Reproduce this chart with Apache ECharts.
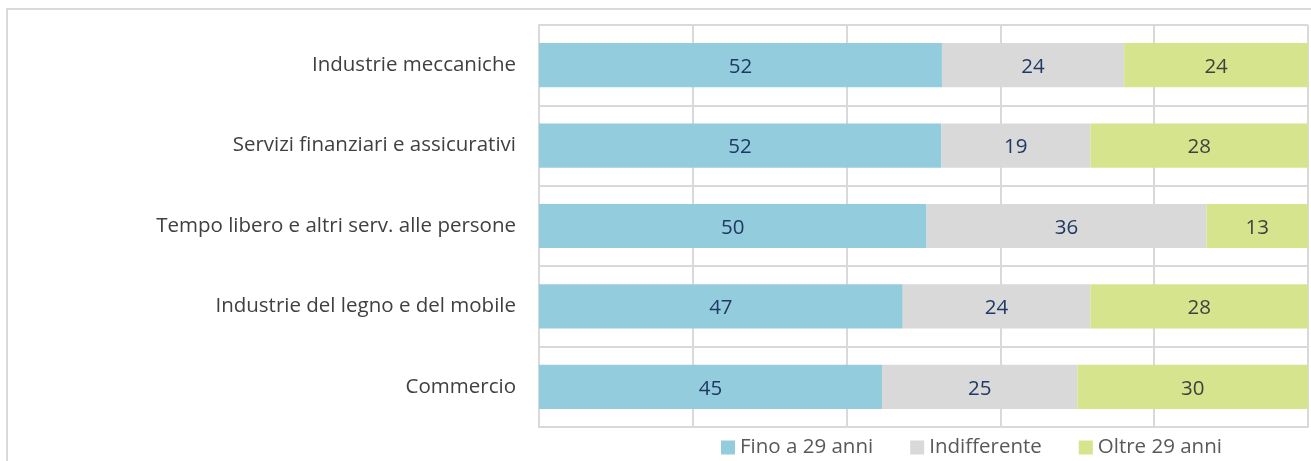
<!DOCTYPE html>
<html><head><meta charset="utf-8">
<script src="https://cdn.jsdelivr.net/npm/echarts@6/dist/echarts.min.js"></script>
<style>html,body{margin:0;padding:0;background:#fff}#c{width:1311px;height:461px}</style>
</head><body><div id="c"></div>
<script>
const categories = ['Industrie meccaniche','Servizi finanziari e assicurativi','Tempo libero e altri serv. alle persone','Industrie del legno e del mobile','Commercio'];
const fino = [52.4, 52.3, 50.4, 47.3, 44.6];
const indiff = [23.7, 19.4, 36.4, 24.4, 25.4];
const oltre = [23.9, 28.3, 13.2, 28.3, 30.0];
const seriesNames = ['Fino a 29 anni','Indifferente','Oltre 29 anni'];
const FONT = 'Open Sans';
const FS = 20.5;
const chart = echarts.init(document.getElementById('c'));
const lbl = (color) => ({show:true, position:'inside', offset:[0,2], color:color, fontFamily:FONT, fontSize:FS, formatter:p=>Math.round(p.value)});
chart.setOption({
  animation:false,
  graphic:[{type:'rect', shape:{x:7,y:9,width:1330,height:480}, style:{fill:'none', stroke:'#d9d9d9', lineWidth:2}, silent:true}],
  grid:{left:539, right:3, top:25, bottom:34, containLabel:false},
  legend:{top:432, left:716, itemWidth:14, itemHeight:14, itemGap:37, icon:'rect',
    textStyle:{fontFamily:FONT, fontSize:FS, color:'#595959'}, data:seriesNames},
  xAxis:{type:'value', min:0, max:100, interval:20, axisLabel:{show:false}, axisTick:{show:false},
    axisLine:{show:true, lineStyle:{color:'#d9d9d9', width:2}},
    splitLine:{show:true, lineStyle:{color:'#d9d9d9', width:2}}},
  yAxis:{type:'category', inverse:true, data:categories, axisTick:{show:false},
    axisLine:{show:true, lineStyle:{color:'#d9d9d9', width:2}},
    splitLine:{show:true, lineStyle:{color:'#d9d9d9', width:2}},
    axisLabel:{fontFamily:FONT, fontSize:FS, color:'#404040', margin:23, padding:[4,0,0,0]}},
  series:[
    {name:seriesNames[0], type:'bar', stack:'s', data:fino, barCategoryGap:'45%', itemStyle:{color:'#93CDDD'}, label:lbl('#1F3864')},
    {name:seriesNames[1], type:'bar', stack:'s', data:indiff, itemStyle:{color:'#D9D9D9'}, label:lbl('#1F3864')},
    {name:seriesNames[2], type:'bar', stack:'s', data:oltre, itemStyle:{color:'#D7E48E'}, label:lbl('#404040')}
  ]
});
</script></body></html>
